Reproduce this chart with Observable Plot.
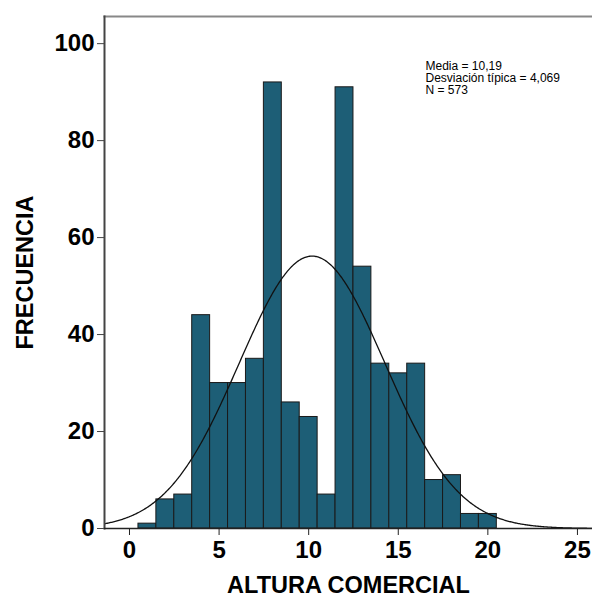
<!DOCTYPE html>
<html>
<head>
<meta charset="utf-8">
<script src="https://cdn.jsdelivr.net/npm/d3@7"></script>
<script src="https://cdn.jsdelivr.net/npm/@observablehq/plot@0.6"></script>
<style>
  html, body { margin: 0; padding: 0; background: #fff; }
  svg { display: block; }
</style>
</head>
<body>
<div id="chart"></div>
<script>
// Histogram bins (centres, width 1) and frequencies
const binCenters = [1,2,3,4,5,6,7,8,9,10,11,12,13,14,15,16,17,18,19,20];
const frequencies = [1,6,7,44,30,30,35,92,26,23,7,91,54,34,32,34,10,11,3,3];
const xTicks = [0,5,10,15,20,25];
const yTicks = [0,20,40,60,80,100];
const statMean = 10.19;
const statSD = 4.069;
const statN = 573;
const statsLabel = "Media = 10,19\nDesviación típica = 4,069\nN = 573";
const xLabel = "ALTURA COMERCIAL";
const yLabel = "FRECUENCIA";

const binWidth = 1;
const bars = binCenters.map((c, i) => ({x1: c - binWidth/2, x2: c + binWidth/2, y: frequencies[i]}));

const xDomain = [-1.395, 25.84];
// Fitted normal curve from the stated mean / sd / N
const curveX = d3.range(xDomain[0], xDomain[1] + 0.05, 0.05);
const curve = curveX.map(x => ({
  x,
  y: statN * binWidth * Math.exp(-0.5 * ((x - statMean) / statSD) ** 2) / (statSD * Math.sqrt(2 * Math.PI))
}));

const chart = Plot.plot({
  width: 592,
  height: 604,
  marginLeft: 104,
  marginRight: 0,
  marginTop: 16,
  marginBottom: 76,
  style: {fontFamily: "Liberation Sans, Arial, sans-serif", background: "#fff"},
  x: {domain: xDomain, ticks: xTicks, label: null},
  y: {domain: [0, 105.6], ticks: yTicks, label: null},
  marks: [
    Plot.rectY(bars, {x1: "x1", x2: "x2", y: "y", fill: "#1d5e76", stroke: "#1a1a1a", strokeWidth: 1, inset: 0}),
    Plot.line(curve, {x: "x", y: "y", stroke: "#111", strokeWidth: 1.3, clip: true}),
    // frame lines: top (gray), left, bottom
    Plot.frame({anchor: "top", stroke: "#888", strokeWidth: 2}),
    Plot.frame({anchor: "left", stroke: "#444", strokeWidth: 2}),
    Plot.frame({anchor: "bottom", stroke: "#222", strokeWidth: 1.5}),
    Plot.axisX({ticks: xTicks, tickSize: 7, tickPadding: 5, fontSize: 24, fontWeight: "bold", fill: "#000", stroke: "#222", label: null}),
    Plot.axisY({ticks: yTicks, tickSize: 7, tickPadding: 3, fontSize: 24, fontWeight: "bold", fill: "#000", stroke: "#444", label: null}),
    Plot.text([xLabel], {frameAnchor: "bottom", dy: 64, fontSize: 23.5, fontWeight: "bold", fill: "#000"}),
    Plot.text([yLabel], {frameAnchor: "left", dx: -79, rotate: -90, textAnchor: "middle", fontSize: 23.5, fontWeight: "bold", fill: "#000"}),
    Plot.text([statsLabel], {frameAnchor: "top-left", dx: 321, dy: 45, textAnchor: "start", lineAnchor: "top", lineHeight: 1.0, fontSize: 12, fill: "#000"})
  ]
});
document.getElementById("chart").appendChild(chart);
</script>
</body>
</html>
